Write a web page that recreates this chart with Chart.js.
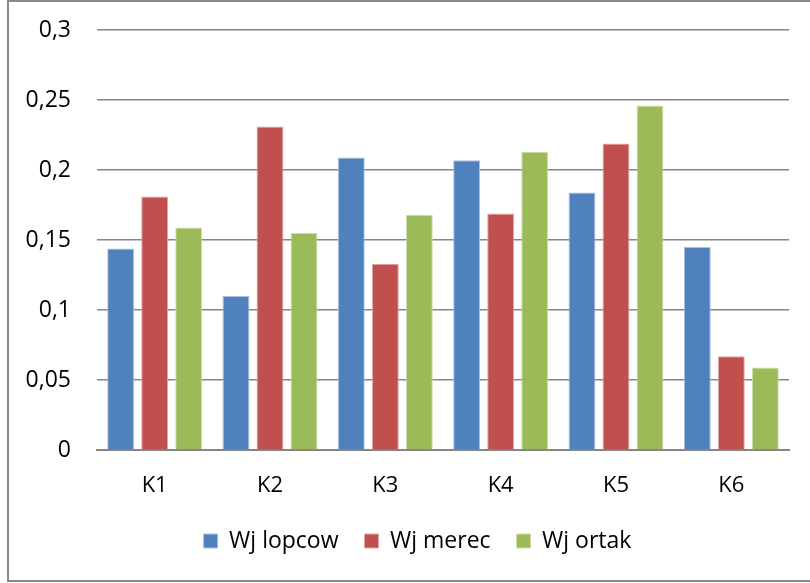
<!DOCTYPE html>
<html>
<head>
<meta charset="utf-8">
<script src="https://cdn.jsdelivr.net/npm/chart.js@4/dist/chart.umd.min.js"></script>
<style>
  html, body { margin: 0; padding: 0; background: #fff; }
  #wrap { position: relative; width: 810px; height: 583px; }
</style>
</head>
<body>
<div id="wrap"><canvas id="chart" width="810" height="583"></canvas></div>
<script>
// Criteria and weight series
const categories = ['K1', 'K2', 'K3', 'K4', 'K5', 'K6'];
const wjLopcow = [0.144, 0.110, 0.209, 0.207, 0.184, 0.145];
const wjMerec  = [0.181, 0.231, 0.133, 0.169, 0.219, 0.067];
const wjOrtak  = [0.159, 0.155, 0.168, 0.213, 0.246, 0.059];
const seriesNames = ['Wj lopcow', 'Wj merec', 'Wj ortak'];

const FONT = "'Open Sans', sans-serif";

// Outer frame around the whole chart
const framePlugin = {
  id: 'frame',
  afterDraw(chart) {
    const ctx = chart.ctx;
    ctx.save();
    ctx.strokeStyle = '#8a8a8a';
    ctx.lineWidth = 2;
    ctx.strokeRect(8, 1, 900, 580);
    ctx.restore();
  }
};

new Chart(document.getElementById('chart'), {
  type: 'bar',
  data: {
    labels: categories,
    datasets: [
      { label: seriesNames[0], data: wjLopcow, backgroundColor: '#4f81bd', borderColor: '#a9c0de', borderWidth: 1 },
      { label: seriesNames[1], data: wjMerec,  backgroundColor: '#c0504d', borderColor: '#dfa7a6', borderWidth: 1 },
      { label: seriesNames[2], data: wjOrtak,  backgroundColor: '#9bbb59', borderColor: '#cddcac', borderWidth: 1 }
    ]
  },
  options: {
    responsive: false,
    animation: false,
    devicePixelRatio: 1,
    categoryPercentage: 0.885,
    barPercentage: 0.79,
    layout: { padding: { left: 25, right: 0, top: 30, bottom: 20.5 } },
    plugins: {
      legend: {
        position: 'bottom',
        labels: {
          font: { family: FONT, size: 23 },
          color: '#000',
          boxWidth: 14,
          boxHeight: 14,
          padding: 26,
          useBorderRadius: false
        }
      },
      tooltip: { enabled: false }
    },
    scales: {
      x: {
        grid: { display: false, drawTicks: false },
        border: { display: true, color: '#868686', width: 2 },
        ticks: { font: { family: FONT, size: 22 }, color: '#000', padding: 23 },
        afterFit(scale) {
          scale.height = 53.5;
          // empty margin to the right of the plot area
          scale.paddingLeft = 0;
          scale.paddingRight = 21;
        }
      },
      y: {
        min: 0,
        max: 0.3,
        ticks: {
          stepSize: 0.05,
          font: { family: FONT, size: 23 },
          color: '#000',
          padding: 26,
          callback: (v) => String(+v.toFixed(2)).replace('.', ',')
        },
        grid: { color: '#868686', lineWidth: 1.5, drawTicks: false },
        border: { display: false },
        afterFit(scale) {
          scale.width = 72;
          // keep the label gap from pushing the plot area down
          scale.paddingTop = 14;
          scale.paddingBottom = 14;
        }
      }
    }
  },
  plugins: [framePlugin]
});
</script>
</body>
</html>
